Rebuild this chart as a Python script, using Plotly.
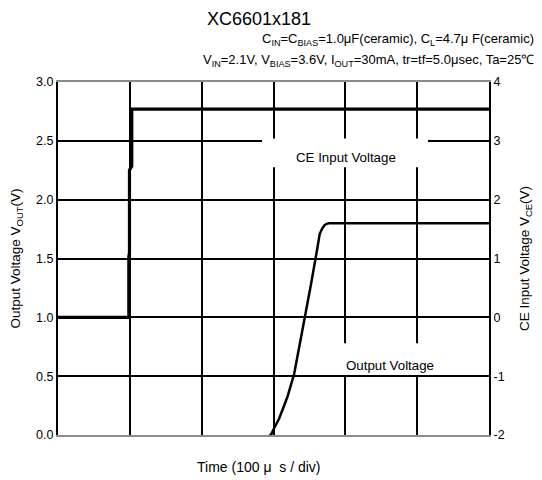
import plotly.graph_objects as go

# ---- data (time in microseconds, 100 us / div) ----
time_ce = [0, 98.6, 98.6, 99.5, 99.5, 102.7, 102.7, 600]
v_ce = [0, 0, 1.03, 1.1, 2.5, 2.57, 3.54, 3.54]

time_out = [294, 296.4, 301.0, 307.9, 313.5, 319.4, 328.8, 338.1, 345.0, 351.9,
            359.7, 364.4, 367.5, 370.4, 374.0, 377.4, 600]
v_out = [0, 0.0, 0.06, 0.14, 0.23, 0.325, 0.52, 0.81, 1.03, 1.27,
         1.54, 1.71, 1.75, 1.78, 1.795, 1.80, 1.80]

left_ticks = [0.0, 0.5, 1.0, 1.5, 2.0, 2.5, 3.0]
left_labels = ["0.0", "0.5", "1.0", "1.5", "2.0", "2.5", "3.0"]
right_ticks = [-2, -1, 0, 1, 2, 3, 4]
right_labels = ["-2", "-1", "0", "1", "2", "3", "4"]

FONT = "Liberation Sans, Arial, sans-serif"

fig = go.Figure()
fig.add_trace(go.Scatter(x=time_out, y=v_out, mode="lines",
                         line=dict(color="black", width=2.5), yaxis="y",
                         showlegend=False, hoverinfo="skip"))
fig.add_trace(go.Scatter(x=time_ce, y=v_ce, mode="lines",
                         line=dict(color="black", width=3.2), yaxis="y2",
                         showlegend=False, hoverinfo="skip"))

# white label boxes (between grid and traces)
fig.add_shape(type="rect", xref="x", yref="y", x0=284, x1=515, y0=2.275, y1=2.52,
              fillcolor="white", line=dict(width=0), layer="between")
fig.add_shape(type="rect", xref="x", yref="y", x0=366, x1=560, y0=0.51, y1=0.78,
              fillcolor="white", line=dict(width=0), layer="between")

fig.add_annotation(x=401, y=2.36, xref="x", yref="y", text="CE Input Voltage",
                   showarrow=False, font=dict(size=13.3, color="black", family=FONT))
fig.add_annotation(x=462, y=0.594, xref="x", yref="y", text="Output Voltage",
                   showarrow=False, font=dict(size=13.3, color="black", family=FONT))

# subtitles
fig.add_annotation(x=1.108, y=1.119, xref="paper", yref="paper", xanchor="right", yanchor="middle",
                   text="C<sub>IN</sub>=C<sub>BIAS</sub>=1.0μF(ceramic), C<sub>L</sub>=4.7μ F(ceramic)",
                   showarrow=False, font=dict(size=13, color="black", family=FONT))
fig.add_annotation(x=1.108, y=1.06, xref="paper", yref="paper", xanchor="right", yanchor="middle",
                   text="V<sub>IN</sub>=2.1V, V<sub>BIAS</sub>=3.6V, I<sub>OUT</sub>=30mA, tr=tf=5.0μsec, Ta=25℃",
                   showarrow=False, font=dict(size=13, color="black", family=FONT))
# x title
fig.add_annotation(x=0.465, y=-0.09, xref="paper", yref="paper", xanchor="center", yanchor="middle",
                   text="Time (100 μ  s / div)", showarrow=False,
                   font=dict(size=14, color="black", family=FONT))

fig.update_layout(
    width=542, height=480,
    margin=dict(l=58, r=51, t=82, b=45),
    paper_bgcolor="white", plot_bgcolor="white",
    font=dict(family=FONT, size=12.5, color="black"),
    title=dict(text="XC6601x181", x=0.478, xanchor="center", y=0.962, yanchor="middle",
               font=dict(size=18, color="black", family=FONT)),
    xaxis=dict(range=[0, 600], dtick=100, tick0=0, showticklabels=False, ticks="",
               showgrid=True, gridcolor="black", gridwidth=1.5, zeroline=False,
               showline=True, linecolor="#8c8c8c", linewidth=2, mirror=True),
    yaxis=dict(range=[0, 3], tickvals=left_ticks, ticktext=left_labels, ticks="",
               showgrid=True, gridcolor="black", gridwidth=1.5, zeroline=False,
               showline=True, linecolor="black", linewidth=2,
               title=dict(text="Output Voltage V<sub>OUT</sub>(V)", font=dict(size=13.5), standoff=12)),
    yaxis2=dict(range=[-2, 4], tickvals=right_ticks, ticktext=right_labels, ticks="",
                overlaying="y", side="right",
                showgrid=False, zeroline=False, showline=True, linecolor="black", linewidth=2,
                title=dict(text="CE Input Voltage V<sub>CE</sub>(V)", font=dict(size=13.5), standoff=16)),
)

fig.write_html("out.html", config={"displayModeBar": False},
               post_script="document.body.style.margin='0';document.body.style.padding='0';")
